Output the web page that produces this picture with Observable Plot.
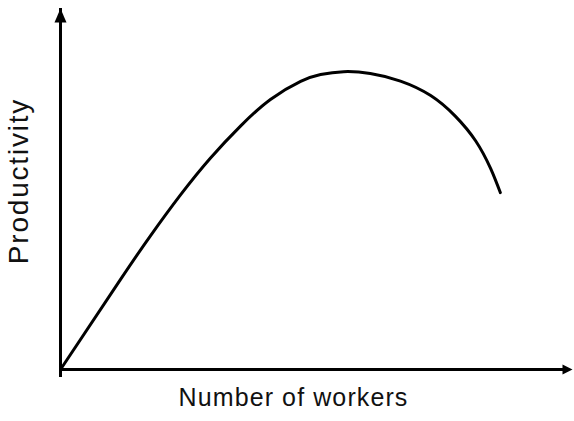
<!DOCTYPE html>
<html>
<head>
<meta charset="utf-8">
<script src="https://cdn.jsdelivr.net/npm/d3@7"></script>
<script src="https://cdn.jsdelivr.net/npm/@observablehq/plot@0.6"></script>
<style>
  html, body { margin: 0; padding: 0; background: #fff; }
  #chart svg { display: block; }
</style>
</head>
<body>
<div id="chart"></div>
<script>
// Productivity as a function of team size (schematic, arbitrary units 0–100)
const workers      = [0, 11.7, 17.6, 23.4, 29.3, 35.2, 41.0, 46.9, 50.8, 55.3, 60.5, 66.4, 72.3, 77.1, 81.1, 84.0, 85.9];
const productivity = [0, 24.9, 37.1, 48.3, 58.6, 67.5, 74.8, 79.8, 81.7, 82.5, 82.0, 79.9, 75.9, 70.2, 63.3, 55.7, 49.0];

// Axis extents (the arrows run to the end of each domain)
const xDomain = [0, 100];
const yDomain = [0, 100];

const xLabel = "Number of workers";
const yLabel = "Productivity";

const curve = workers.map((w, i) => ({workers: w, productivity: productivity[i]}));

// Filled arrowheads with the tip at the origin, pointing up
const arrowHead = {
  draw(ctx) {
    ctx.moveTo(0, 0);
    ctx.lineTo(-6, 14);
    ctx.lineTo(6, 14);
    ctx.closePath();
  }
};
const arrowHeadSmall = {
  draw(ctx) {
    ctx.moveTo(0, 0);
    ctx.lineTo(-5, 10);
    ctx.lineTo(5, 10);
    ctx.closePath();
  }
};

const chart = Plot.plot({
  width: 574,
  height: 421,
  marginLeft: 60,
  marginRight: 2,
  marginTop: 8,
  marginBottom: 52,
  x: {domain: xDomain, axis: null},
  y: {domain: yDomain, axis: null},
  style: {fontFamily: "'Liberation Sans', Arial, sans-serif", color: "#000", background: "#fff"},
  marks: [
    // axes
    Plot.ruleX([xDomain[0]], {y1: yDomain[0], y2: yDomain[1], stroke: "#000", strokeWidth: 3, insetTop: 8}),
    Plot.ruleY([yDomain[0]], {x1: xDomain[0], x2: xDomain[1], stroke: "#000", strokeWidth: 3, insetRight: 6}),
    Plot.dot([{x: xDomain[0], y: yDomain[1]}], {x: "x", y: "y", symbol: arrowHead, fill: "#000", stroke: null}),
    Plot.dot([{x: xDomain[1], y: yDomain[0]}], {x: "x", y: "y", symbol: arrowHeadSmall, rotate: 90, fill: "#000", stroke: null}),
    // productivity curve
    Plot.line(curve, {x: "workers", y: "productivity", curve: "natural", stroke: "#000", strokeWidth: 3, strokeLinecap: "round"}),
    // axis titles
    Plot.text([xLabel], {text: d => d, frameAnchor: "bottom", textAnchor: "middle", dx: -23, dy: 36, fontSize: 25, fill: "#111"}),
    Plot.text([yLabel], {text: d => d, frameAnchor: "left", textAnchor: "middle", rotate: -90, dx: -41, dy: -8, fontSize: 28, fill: "#111"})
  ]
});

// letter spacing on the axis titles
d3.select(chart).selectAll("text").each(function() {
  const t = this.textContent;
  if (t === xLabel) this.setAttribute("letter-spacing", "1.1");
  if (t === yLabel) this.setAttribute("letter-spacing", "1.8");
});

document.getElementById("chart").appendChild(chart);
</script>
</body>
</html>
